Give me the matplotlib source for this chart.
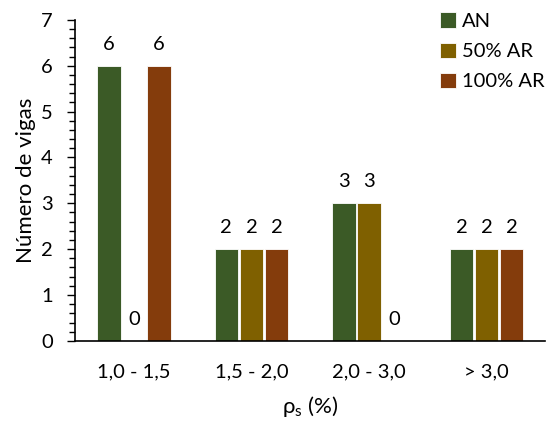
import numpy as np
import matplotlib.pyplot as plt
from matplotlib.ticker import MultipleLocator

plt.rcParams['font.family'] = ['Lato', 'DejaVu Sans']
plt.rcParams['font.size'] = 14.5

categorias = ['1,0 - 1,5', '1,5 - 2,0', '2,0 - 3,0', '> 3,0']
an = [6, 2, 3, 2]
ar50 = [0, 2, 3, 2]
ar100 = [6, 2, 0, 2]
series = ['AN', '50% AR', '100% AR']
cores = ['#3b5a26', '#7f6000', '#843c0c']

fig = plt.figure(figsize=(5.48, 4.32), dpi=100)
ax = fig.add_axes([0.137, 0.211, 0.858, 0.743])

x = np.arange(len(categorias))
w = 0.2
passo = 0.213
for i, (vals, nome, cor) in enumerate(zip([an, ar50, ar100], series, cores)):
    pos = x + (i - 1) * passo
    ax.bar(pos, vals, width=w, color=cor, edgecolor='white', linewidth=0.6, label=nome)
    for p, v in zip(pos, vals):
        ax.text(p, v + 0.28, str(v), ha='center', va='bottom')

ax.set_xlim(-0.5, 3.5)
ax.set_ylim(0, 7)
ax.set_xticks(x)
ax.set_xticklabels(categorias)
ax.tick_params(axis='x', length=0, pad=16)
ax.yaxis.set_major_locator(MultipleLocator(1))
ax.yaxis.set_minor_locator(MultipleLocator(0.2))
ax.tick_params(axis='y', which='major', length=6, width=1, pad=10)
ax.tick_params(axis='y', which='minor', length=4, width=1)

for s in ['top', 'right']:
    ax.spines[s].set_visible(False)
ax.spines['left'].set_linewidth(1.2)
ax.spines['bottom'].set_linewidth(1.2)

ax.set_ylabel('Número de vigas', fontsize=16, labelpad=4)
ax.set_xlabel(r'ρ$_\mathregular{s}$ (%)', fontsize=16, labelpad=10)

ax.legend(loc='upper right', bbox_to_anchor=(1.038, 1.08), frameon=False,
          handlelength=0.8, handleheight=0.8, handletextpad=0.3,
          labelspacing=0.62)

fig.savefig('out.png', dpi=100)
